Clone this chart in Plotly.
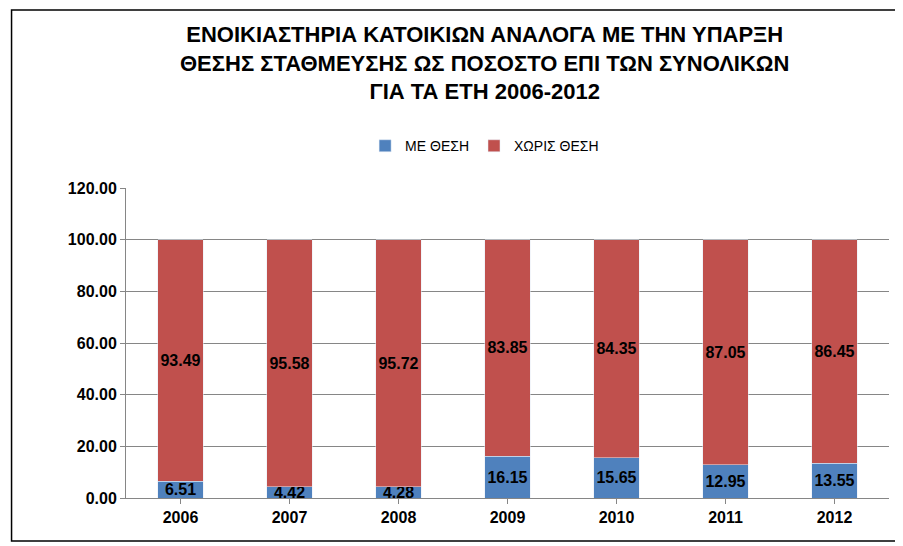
import plotly.graph_objects as go

years = ["2006", "2007", "2008", "2009", "2010", "2011", "2012"]
me_thesi = [6.51, 4.42, 4.28, 16.15, 15.65, 12.95, 13.55]
xoris_thesi = [93.49, 95.58, 95.72, 83.85, 84.35, 87.05, 86.45]
y_ticks = [0, 20, 40, 60, 80, 100, 120]

font = "Liberation Sans"
fig = go.Figure()
for name, vals, col in [("ΜΕ ΘΕΣΗ", me_thesi, "#4F81BD"), ("ΧΩΡΙΣ ΘΕΣΗ", xoris_thesi, "#C0504D")]:
    fig.add_bar(x=years, y=vals, name=name, marker_color=col,
                text=[f"<b>{v:.2f}</b>" for v in vals], textposition="inside", textangle=0,
                insidetextanchor="middle", textfont=dict(size=16, color="black", family=font),
                constraintext="none")

fig.update_layout(
    width=903, height=546, barmode="stack", bargap=0.58,
    paper_bgcolor="white", plot_bgcolor="white",
    margin=dict(l=118, r=22, t=180, b=56, autoexpand=False),
    font=dict(family=font, color="black"),
    legend=dict(orientation="h", x=0.47, xanchor="center", y=1.135, yanchor="middle",
                font=dict(size=14), traceorder="normal"),
    xaxis=dict(showline=True, linecolor="#868686", tickfont=dict(size=16, family=font),
               ticks="outside", ticklen=5, tickcolor="#868686",
               tickvals=years, ticktext=[f"<b>{y}</b>" for y in years]),
    yaxis=dict(range=[0, 120], tickvals=y_ticks, ticktext=[f"<b>{v:.2f}</b>" for v in y_ticks],
               tickfont=dict(size=16, family=font), showgrid=True, gridcolor="#868686",
               showline=True, linecolor="#868686", ticks="outside", tickcolor="#868686",
               zeroline=False),
    annotations=[dict(text="<b>ΕΝΟΙΚΙΑΣΤΗΡΙΑ ΚΑΤΟΙΚΙΩΝ ΑΝΑΛΟΓΑ ΜΕ ΤΗΝ ΥΠΑΡΞΗ<br>"
                           "ΘΕΣΗΣ ΣΤΑΘΜΕΥΣΗΣ ΩΣ ΠΟΣΟΣΤΟ ΕΠΙ ΤΩΝ ΣΥΝΟΛΙΚΩΝ<br>ΓΙΑ ΤΑ ΕΤΗ 2006-2012</b>",
                      x=0.47, y=1.0, xref="paper", yref="paper", xanchor="center",
                      yanchor="top", showarrow=False, font=dict(size=22),
                      yshift=168)],
    shapes=[
        dict(type="rect", xref="paper", yref="paper", x0=-0.150, x1=1.011, y0=-0.139, y1=1.574,
             line=dict(color="black", width=1.5), layer="below"),
    ],
)
fig.write_html("out.html")
